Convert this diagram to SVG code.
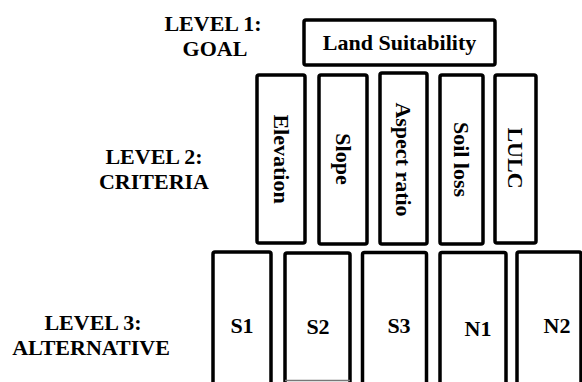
<svg xmlns="http://www.w3.org/2000/svg" width="582" height="382" viewBox="0 0 582 382" font-family="'Liberation Serif', Tinos, 'Times New Roman', 'DejaVu Serif', serif" font-weight="bold" font-size="22">
<style>
.box{fill:#fff;stroke:#000;stroke-width:3.5;stroke-linejoin:round}
text{font-family:'Liberation Serif',Tinos,'Times New Roman','DejaVu Serif',serif;font-weight:700;font-size:22px;fill:#000}
.lbl{text-anchor:middle}
.v{text-anchor:middle;dominant-baseline:central}
</style>
<rect width="582" height="382" fill="#fff"/>
<g id="level-labels">
<g id="level1"><text class="lbl" x="213" y="31">LEVEL 1:</text><text class="lbl" x="215" y="56">GOAL</text></g>
<g id="level2"><text class="lbl" x="154" y="164">LEVEL 2:</text><text class="lbl" x="154" y="189">CRITERIA</text></g>
<g id="level3"><text class="lbl" x="93" y="330">LEVEL 3:</text><text class="lbl" x="91" y="355">ALTERNATIVE</text></g>
</g>
<g id="goal"><rect class="box" x="304" y="20" width="191" height="45" rx="2"/><text class="lbl" x="399.5" y="50">Land Suitability</text></g>
<g id="elevation"><rect class="box" x="257" y="75" width="48" height="168" rx="2"/><text class="v" transform="translate(281,159) rotate(90)">Elevation</text></g>
<g id="slope"><rect class="box" x="319" y="75" width="48" height="169" rx="2"/><text class="v" transform="translate(343,159) rotate(90)">Slope</text></g>
<g id="aspect"><rect class="box" x="380" y="73" width="47" height="171" rx="2"/><text class="v" transform="translate(403.5,159.5) rotate(90)">Aspect ratio</text></g>
<g id="soilloss"><rect class="box" x="440" y="75" width="43" height="169" rx="2"/><text class="v" transform="translate(461.5,159.5) rotate(90)">Soil loss</text></g>
<g id="lulc"><rect class="box" x="495" y="75" width="41" height="168" rx="2"/><text class="v" transform="translate(515.5,158) rotate(90)">LULC</text></g>
<g id="s1"><rect class="box" x="213" y="252" width="58" height="150" rx="2"/><text class="lbl" x="242" y="333">S1</text></g>
<g id="s2"><rect class="box" x="285" y="253" width="65" height="150" rx="2"/><line x1="285" y1="380.5" x2="350" y2="380.5" stroke="#777" stroke-width="1.5"/><text class="lbl" x="318" y="334">S2</text></g>
<g id="s3"><rect class="box" x="362.5" y="252.5" width="64" height="150" rx="2"/><text class="lbl" x="399" y="333">S3</text></g>
<g id="n1"><rect class="box" x="440" y="252.5" width="66" height="150" rx="2"/><text class="lbl" x="478" y="336">N1</text></g>
<g id="n2"><rect class="box" x="517" y="252" width="64" height="150" rx="2"/><text class="lbl" x="557" y="333">N2</text></g>
<g id="connectors"/>
</svg>
